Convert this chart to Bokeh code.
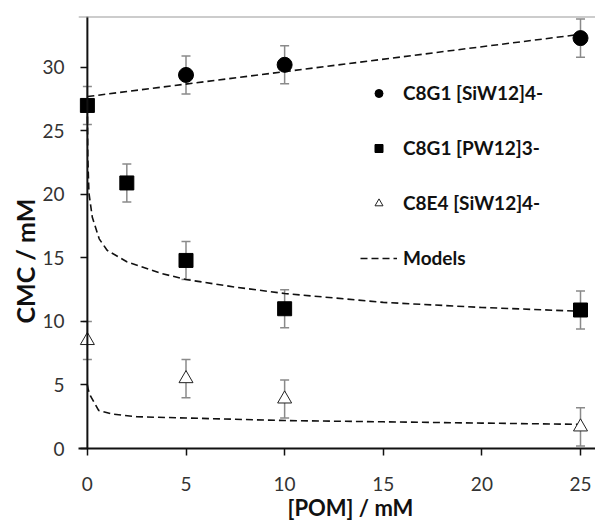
import numpy as np
from bokeh.plotting import figure
from bokeh.models import (ColumnDataSource, Whisker, TeeHead, Legend, LegendItem,
                          Title, Span, FixedTicker, Range1d)
from bokeh.embed import file_html
from bokeh.resources import INLINE

# ---- data ----
sil_x = [5, 10, 25]
sil_y = [29.4, 30.2, 32.3]
sil_err = [1.5, 1.5, 1.5]

pw_x = [0, 2, 5, 10, 25]
pw_y = [27.0, 20.9, 14.8, 11.0, 10.9]
pw_err = [1.5, 1.5, 1.5, 1.5, 1.5]

e4_x = [0, 5, 10, 25]
e4_y = [8.5, 5.5, 3.9, 1.7]
e4_err = [1.5, 1.5, 1.5, 1.5]

model_sil_x = [0, 25]
model_sil_y = [27.7, 32.6]

model_pw_x = [0, 0.02, 0.08, 0.25, 0.6, 1.0, 2.0, 3.7, 5, 7.5, 10, 15, 20, 25]
model_pw_y = [27.0, 23.0, 20.1, 18.2, 16.5, 15.6, 14.7, 13.8, 13.3, 12.7, 12.2, 11.5, 11.1, 10.8]

model_e4_x = [0, 0.05, 0.17, 0.57, 1.3, 2.5, 5, 10, 15, 20, 25]
model_e4_y = [5.0, 4.6, 4.1, 3.0, 2.7, 2.5, 2.4, 2.2, 2.1, 2.0, 1.9]

x_ticks = [0, 5, 10, 15, 20, 25]
y_ticks = [0, 5, 10, 15, 20, 25, 30]

labels = ["C8G1 [SiW12]4-", "C8G1 [PW12]3-", "C8E4 [SiW12]4-", "Models"]
x_title = "[POM]  / mM"
y_title = "CMC  / mM"

FONT = "Lato"
ERR = "#8a8a8a"
AX = "#111111"

p = figure(width=595, height=521, output_backend="svg", toolbar_location=None,
           x_range=Range1d(-0.45, 25.76), y_range=Range1d(0, 34.0),
           min_border_left=78, min_border_right=0, min_border_top=16,
           min_border_bottom=73)
p.outline_line_color = None
p.grid.visible = False
p.background_fill_color = "white"
p.border_fill_color = "white"

for ax, ticks in ((p.xaxis[0], x_ticks), (p.yaxis[0], y_ticks)):
    ax.ticker = FixedTicker(ticks=ticks)
    ax.minor_tick_line_color = None
    ax.minor_tick_in = 0
    ax.minor_tick_out = 0
    ax.major_tick_line_width = 1.5
    ax.major_tick_line_color = AX
    ax.axis_line_width = 2
    ax.axis_line_color = AX
    ax.major_label_text_font = FONT
    ax.major_label_text_font_size = "19px"
    ax.major_label_text_color = "#333333"

p.xaxis.major_tick_in = 0
p.xaxis.major_tick_out = 7
p.xaxis.major_label_standoff = 21

# y axis line drawn at x = 0 (frame extends a little left so markers at 0 are whole)
p.yaxis.axis_line_color = None
p.yaxis.major_tick_in = 9
p.yaxis.major_tick_out = -2
p.yaxis.major_label_standoff = 14
p.add_layout(Span(location=0, dimension="height", line_color=AX, line_width=2))

# top border
p.add_layout(Span(location=34.0, dimension="width", line_color="#999999", line_width=2))

# error bars
def add_err(xs, ys, es):
    src = ColumnDataSource(dict(x=xs, lo=[y - e for y, e in zip(ys, es)],
                                hi=[y + e for y, e in zip(ys, es)]))
    w = Whisker(base="x", lower="lo", upper="hi", source=src, dimension="height",
                line_color=ERR, line_width=1.5, level="underlay",
                upper_head=TeeHead(size=9, line_color=ERR, line_width=1.5),
                lower_head=TeeHead(size=9, line_color=ERR, line_width=1.5))
    p.add_layout(w)

add_err(sil_x, sil_y, sil_err)
add_err(pw_x, pw_y, pw_err)
add_err(e4_x, e4_y, e4_err)

dash = "7 4"
m1 = p.line(model_sil_x, model_sil_y, line_color=AX, line_width=1.6, line_dash=dash)
p.line(model_pw_x, model_pw_y, line_color=AX, line_width=1.6, line_dash=dash)
p.line(model_e4_x, model_e4_y, line_color=AX, line_width=1.6, line_dash=dash)

r1 = p.scatter(sil_x, sil_y, marker="circle", size=15, fill_color="black", line_color="black")
r2 = p.scatter(pw_x, pw_y, marker="square", size=14, fill_color="black", line_color="black")
r3 = p.scatter(e4_x, e4_y, marker="triangle", size=14, fill_color="white",
               line_color="#222222", line_width=1)

legend = Legend(items=[LegendItem(label=labels[0], renderers=[r1]),
                       LegendItem(label=labels[1], renderers=[r2]),
                       LegendItem(label=labels[2], renderers=[r3]),
                       LegendItem(label=labels[3], renderers=[m1])],
                location=(282, 179), orientation="vertical",
                glyph_width=37, glyph_height=20, label_height=20, spacing=32,
                label_standoff=6, padding=0, margin=0,
                border_line_color=None, background_fill_alpha=0,
                label_text_font=FONT, label_text_font_style="bold",
                label_text_font_size="19px", label_text_color=AX)
p.add_layout(legend, "center")

p.add_layout(Title(text=x_title, align="left", offset=209, standoff=-3,
                   text_font=FONT, text_font_style="bold", text_font_size="22px",
                   text_color=AX), "below")
p.add_layout(Title(text=y_title, align="left", offset=125, standoff=0,
                   text_font=FONT, text_font_style="bold", text_font_size="25px",
                   text_color=AX), "left")

open("out.html", "w").write(file_html(p, INLINE))
